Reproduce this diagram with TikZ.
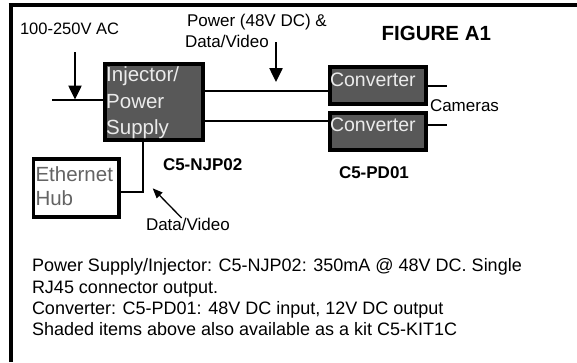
\documentclass[tikz,border=0pt]{standalone}
\usepackage{fontspec}
\setmainfont{Liberation Sans}
\usetikzlibrary{arrows.meta}
\definecolor{boxgray}{RGB}{88,88,88}
\definecolor{boxtext}{RGB}{235,235,235}
\definecolor{hubtext}{RGB}{100,100,100}
\tikzset{
  darkbox/.style={draw=black, line width=4pt, fill=boxgray, inner sep=0pt},
  hubbox/.style={draw=black, line width=3.5pt, fill=white, inner sep=0pt},
  conn/.style={draw=black, line width=2pt},
  bigarrow/.style={draw=black, line width=2.5pt, -{Triangle[width=13pt,length=14pt]}},
  smallarrow/.style={draw=black, line width=1.3pt, -{Triangle[width=8pt,length=10pt]}},
  txt/.style={anchor=base west, inner sep=0pt, outer sep=0pt},
  frameline/.style={draw=black, line width=4pt}
}
\newcommand{\fsz}[1]{\fontsize{#1}{#1}\selectfont}
\begin{document}
\begin{tikzpicture}[x=1pt,y=-1pt]
\useasboundingbox (0,0) rectangle (577,362);
% frame
\coordinate (fTL) at (10.7,5.2);
\coordinate (fBL) at (10.7,362);
\coordinate (fTR) at (577,5.2);
\draw[frameline] (fBL) -- (10.7,3.2) (8.7,5.2) -- (fTR);

% boxes
\node[darkbox, minimum width=98pt, minimum height=76.6pt] (inj) at (154,102) {};
\node[darkbox, minimum width=96pt, minimum height=36.7pt] (conv1) at (377.7,85.3) {};
\node[darkbox, minimum width=96pt, minimum height=36.7pt] (conv2) at (377.7,131.3) {};
\node[hubbox, minimum width=85.5pt, minimum height=58pt] (hub) at (76.3,188) {};

% box texts
\node[txt, text=boxtext] (injT1) at (106.2,81.7) {\fsz{20.5}Injector/};
\node[txt, text=boxtext] (injT2) at (106.2,108.3) {\fsz{20.5}Power};
\node[txt, text=boxtext] (injT3) at (106.2,134.3) {\fsz{20.5}Supply};
\node[txt, text=boxtext] (c1T) at (330,86) {\fsz{19.5}Converter};
\node[txt, text=boxtext] (c2T) at (330,131.7) {\fsz{19.5}Converter};
\node[txt, text=hubtext] (hubT1) at (35.5,181.7) {\fsz{20.5}Ethernet};
\node[txt, text=hubtext] (hubT2) at (35.5,205.5) {\fsz{20.5}Hub};

% labels
\node[txt] (acL) at (20,34.3) {\fsz{16.5}100-250V AC};
\node[txt] (pwL1) at (187,26.5) {\fsz{17}Power (48V DC) \&};
\node[txt] (pwL2) at (185,47) {\fsz{17}Data/Video};
\node[txt] (fig) at (381.7,40) {\fsz{20.5}\bfseries FIGURE A1};
\node[txt] (cam) at (430,111.7) {\fsz{17}Cameras};
\node[txt] (njp) at (163,170) {\fsz{17}\bfseries C5-NJP02};
\node[txt] (pd) at (339,178) {\fsz{17}\bfseries C5-PD01};
\node[txt] (dvL) at (146,230) {\fsz{17}Data/Video};
\node[txt] (b1) at (32,271.7) {\fsz{18}Power Supply/Injector: C5-NJP02: 350mA @ 48V DC. Single};
\node[txt] (b2) at (32,293.2) {\fsz{18}RJ45 connector output.};
\node[txt] (b3) at (32,314.5) {\fsz{18}Converter: C5-PD01: 48V DC input, 12V DC output};
\node[txt] (b4) at (32,335.7) {\fsz{18}Shaded items above also available as a kit C5-KIT1C};

% connectors
\coordinate (inL) at (52,100);
\draw[conn] (inL) -- (inL -| inj.west);
\coordinate (acTop) at (75,52);
\coordinate (acTip) at (75,99.5);
\draw[bigarrow] (acTop) -- (acTip);

\coordinate (l1) at (0,90.7);
\coordinate (l2) at (0,120.5);
\draw[conn] (inj.east |- l1) -- (conv1.west |- l1);
\draw[conn] (inj.east |- l2) -- (conv2.west |- l2);

\coordinate (pwTop) at (276,42);
\coordinate (pwTip) at (276,82);
\draw[bigarrow] (pwTop) -- (pwTip);

\coordinate (s1) at (446.7,86);
\coordinate (s2) at (446.7,125);
\draw[conn] (conv1.east |- s1) -- (s1);
\draw[conn] (conv2.east |- s2) -- (s2);

\coordinate (j1) at (143,191.7);
\draw[conn] (inj.south -| j1) -- (j1) -- (hub.east |- j1);

\coordinate (dvTail) at (181.7,218);
\coordinate (dvTip) at (152.7,188.3);
\draw[smallarrow] (dvTail) -- (dvTip);
\end{tikzpicture}
\end{document}
